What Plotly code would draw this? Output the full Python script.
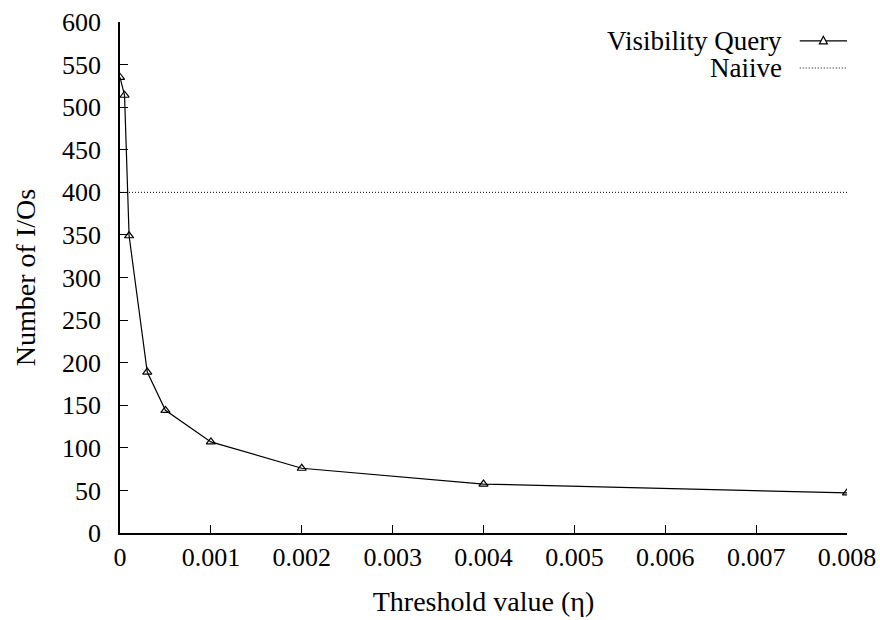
import plotly.graph_objects as go

# Threshold values and measured I/O counts
thresholds = [0, 0.00005, 0.0001, 0.0003, 0.0005, 0.001, 0.002, 0.004, 0.008]
visibility_ios = [535, 514, 349, 189, 144, 107, 76, 57.5, 47]
naive_ios = [400] * len(thresholds)

x_ticks = [0, 0.001, 0.002, 0.003, 0.004, 0.005, 0.006, 0.007, 0.008]
x_tick_text = ["0", "0.001", "0.002", "0.003", "0.004", "0.005", "0.006", "0.007", "0.008"]
y_ticks = list(range(0, 601, 50))

series_names = ["Visibility Query", "Naiive"]

FONT = "Liberation Serif, Times New Roman, serif"
TICK_FS = 26
KEY_FS = 27
TITLE_FS = 28

fig = go.Figure()
fig.add_trace(go.Scatter(
    x=thresholds, y=visibility_ios, mode="lines+markers", name=series_names[0],
    line=dict(color="black", width=1.2),
    marker=dict(symbol="triangle-up-open", size=8, color="black", line=dict(width=1.2)),
    showlegend=False,
))
fig.add_trace(go.Scatter(
    x=thresholds, y=naive_ios, mode="lines", name=series_names[1],
    line=dict(color="black", width=1, dash="1px,2px"),
    showlegend=False,
))

# Key in the upper right: label text right-aligned, sample to its right
key_rows = [(0.963, series_names[0], "solid"), (0.910, series_names[1], "1px,2px")]
for ypos, label, dash in key_rows:
    fig.add_annotation(
        xref="paper", yref="paper", x=0.913, y=ypos, text=label, showarrow=False,
        xanchor="right", yanchor="middle", font=dict(family=FONT, size=KEY_FS, color="black"),
    )
    fig.add_shape(
        type="line", xref="paper", yref="paper", x0=0.935, x1=1.0, y0=ypos, y1=ypos,
        line=dict(color="black", width=1.2 if dash == "solid" else 1, dash=dash),
    )
# triangle symbol on the first key sample
cx, cy = 0.9675, key_rows[0][0]
fig.add_shape(
    type="path", xref="paper", yref="paper",
    path=f"M {cx-0.0055},{cy-0.006} L {cx+0.0055},{cy-0.006} L {cx},{cy+0.009} Z",
    line=dict(color="black", width=1.2), fillcolor="white",
)

fig.update_layout(
    width=880, height=620,
    margin=dict(l=120, r=33, t=22, b=87),
    paper_bgcolor="white", plot_bgcolor="white",
    font=dict(family=FONT, size=TICK_FS, color="black"),
    xaxis=dict(
        range=[0, 0.008], tickvals=x_ticks, ticktext=x_tick_text,
        ticks="inside", ticklen=8, tickwidth=1, tickcolor="black",
        showline=True, linecolor="black", linewidth=1.5, mirror=False,
        showgrid=False, zeroline=False, automargin=False,
        title=dict(text="Threshold value (η)", font=dict(family=FONT, size=TITLE_FS), standoff=20),
        tickfont=dict(family=FONT, size=TICK_FS),
    ),
    yaxis=dict(
        range=[0, 600], tickvals=y_ticks,
        ticks="inside", ticklen=8, tickwidth=1, tickcolor="black",
        showline=True, linecolor="black", linewidth=1.5, mirror=False,
        showgrid=False, zeroline=False, automargin=False,
        title=dict(text="Number of I/Os", font=dict(family=FONT, size=TITLE_FS), standoff=18),
        tickfont=dict(family=FONT, size=TICK_FS),
        ticklabelstandoff=12,
    ),
)

fig.write_html("out.html")
